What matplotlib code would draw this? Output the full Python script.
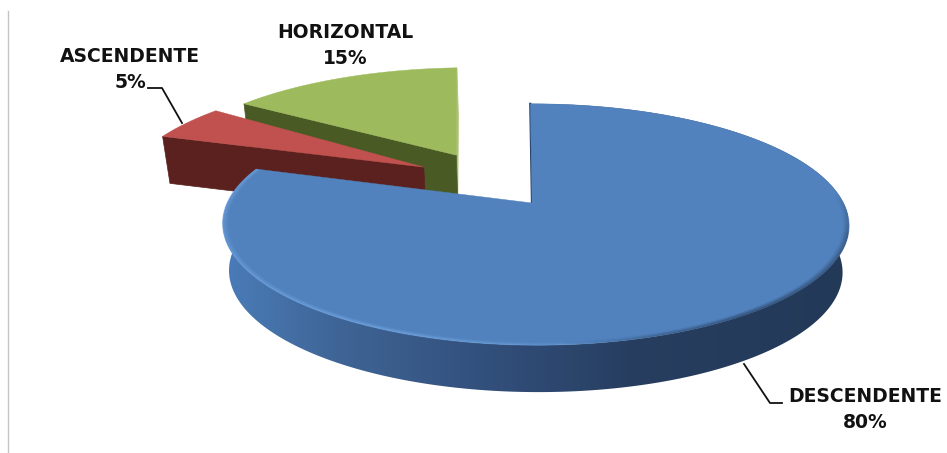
import numpy as np
import matplotlib
matplotlib.use("Agg")
import matplotlib.pyplot as plt
from matplotlib.collections import LineCollection
from matplotlib.colors import LinearSegmentedColormap, to_rgb
from matplotlib.patches import Polygon

# slice data, clockwise from 12 o'clock
labels = ["DESCENDENTE", "ASCENDENTE", "HORIZONTAL"]
values = [80, 5, 15]

# pie geometry
X0, Y0 = 532, 203
RX, RY = 308, 116.8
PERSP_V, PERSP_U = 0.178, -0.011
SHEAR = -2
DEPTH = 47
SHRINK = 0.98

explode_u = [0, -0.371, -0.263]
explode_v = [0, 0.326, 0.443]
radius = [1.0, 1.03, 1.02]
tilt_deg = [0, 0, -2]
top_colors = ["#5282bd", "#c0514e", "#9dbb5c"]
wall_colors = [None, "#5a211f", "#4a5a25"]

plt.rcParams["font.family"] = "DejaVu Sans"
plt.rcParams["font.weight"] = "bold"

fig = plt.figure(figsize=(9.47, 4.53), dpi=100)
ax = fig.add_axes([0, 0, 1, 1])


def project(u, v):
    s = 1 / (1 + PERSP_V * v + PERSP_U * u)
    return X0 + (RX * u + SHEAR * v) * s, Y0 - RY * v * s


def drop(x, y):
    return X0 + (x - X0) * SHRINK, y + DEPTH


def rim(i, t, r_scale=1.0):
    r = radius[i] * r_scale
    return project(explode_u[i] + r * np.sin(t), explode_v[i] + r * np.cos(t))


def apex(i):
    return project(explode_u[i], explode_v[i])


def radial_wall(i, t, color):
    ax_, ay_ = apex(i)
    ex, ey = rim(i, t)
    bx, by = drop(np.array([ex, ax_]), np.array([ey, ay_]))
    ax.fill([ax_, ex, bx[0], bx[1]], [ay_, ey, by[0], by[1]], color=color, lw=0.5)


def top_face(i, t):
    x, y = rim(i, t)
    ax_, ay_ = apex(i)
    ax.fill(np.r_[ax_, x], np.r_[ay_, y], color=top_colors[i], lw=0.3)


ends = np.cumsum(values) / sum(values) * 2 * np.pi
starts = np.r_[0, ends[:-1]]
tilts = np.radians(tilt_deg)
arcs = [np.linspace(a + d, b + d, 300) for a, b, d in zip(starts, ends, tilts)]

# page rule on the left
ax.plot([8, 8], [11, 453], color="#c4c4c4", lw=1)

# horizontal slice, at the back
radial_wall(2, arcs[2][-1], "#aec274")
radial_wall(2, arcs[2][0], wall_colors[2])
top_face(2, arcs[2])

# ascendente slice
radial_wall(1, arcs[1][0], wall_colors[1])
top_face(1, arcs[1])

# descendente wall, gradient clipped to the band under the rim
wall_cmap = LinearSegmentedColormap.from_list("wall", [
    (0.0, "#4a7cb8"), (0.18, "#3f6596"), (0.39, "#34527f"),
    (0.52, "#2d4870"), (0.65, "#273e60"), (1.0, "#233958")])
x, y = rim(0, arcs[0])
bx, by = drop(x, y)
band = Polygon(np.r_[np.c_[x, y], np.c_[bx, by][::-1]], closed=True, transform=ax.transData)
img = ax.imshow(np.linspace(0, 1, 512)[None, :], cmap=wall_cmap, aspect="auto",
                extent=(225, 848, 453, 0), zorder=1.5)
img.set_clip_path(band)

# thin dark wall along the 12 o'clock edge
ax0, ay0 = apex(0)
ex0, ey0 = rim(0, 0.0)
ax.plot([ex0, ax0], [ey0, ay0], color="#1f3a5f", lw=1.6, zorder=2)

x, y = rim(0, arcs[0])
ax.fill(np.r_[ax0, x], np.r_[ay0, y], color=top_colors[0], lw=0.3, zorder=2)

# soft bevel round the front edge of the big slice
light = np.array(to_rgb("#6ea3e0"))
dark = np.array(to_rgb("#2a4568"))
for f in np.linspace(0, 1, 8):
    xr, yr = rim(0, arcs[0], 1 - 0.02 * f)
    segs = np.stack([np.c_[xr[:-1], yr[:-1]], np.c_[xr[1:], yr[1:]]], axis=1)
    deg = np.degrees(arcs[0][:-1])
    for is_light, base, strength in [
        (True, light, np.clip((deg - 160) / 40, 0, 1)),
        (False, dark, np.clip((deg - 85) / 20, 0, 1) * np.clip((175 - deg) / 30, 0, 1)),
    ]:
        rgba = np.zeros((len(deg), 4))
        rgba[:, :3] = base
        rgba[:, 3] = strength * (1 - f) ** 1.3 * 0.5
        ax.add_collection(LineCollection(segs, colors=rgba, linewidths=1.0, zorder=2.1))

# leader lines
ax.plot([148, 162, 182], [88, 88, 123], color="#111111", lw=1.3, zorder=3)
ax.plot([744, 770, 782], [364, 403, 403], color="#111111", lw=1.3, zorder=3)

# labels
label_pos = [(865, 396, 422), (130, 57, 82), (345, 33, 58)]
for name, val, (lx, y1, y2) in zip(labels, values, label_pos):
    ax.text(lx, y1, name, ha="center", va="center", fontsize=13.5, color="#111111")
    ax.text(lx, y2, f"{val}%", ha="center", va="center", fontsize=13.5, color="#111111")

ax.set_xlim(0, 947)
ax.set_ylim(453, 0)
ax.axis("off")

fig.savefig("out.png", dpi=100)
